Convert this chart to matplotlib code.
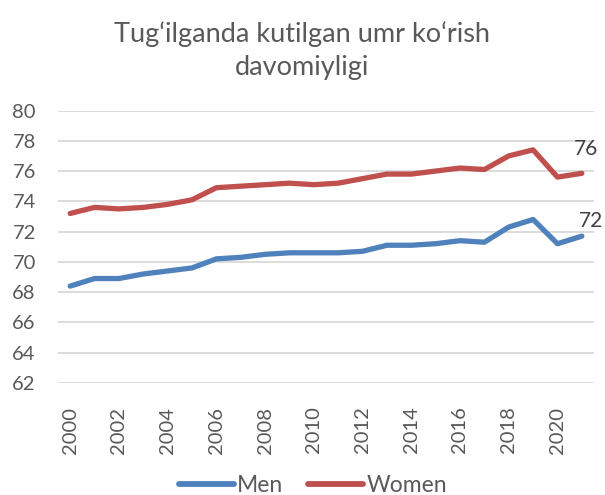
import matplotlib
matplotlib.use("Agg")
import matplotlib.pyplot as plt

plt.rcParams['font.family'] = ['Lato', 'DejaVu Sans']

years = list(range(2000, 2022))
men = [68.4, 68.9, 68.9, 69.2, 69.4, 69.6, 70.2, 70.3, 70.5, 70.6, 70.6,
       70.6, 70.7, 71.1, 71.1, 71.2, 71.4, 71.3, 72.3, 72.8, 71.2, 71.7]
women = [73.2, 73.6, 73.5, 73.6, 73.8, 74.1, 74.9, 75.0, 75.1, 75.2, 75.1,
         75.2, 75.5, 75.8, 75.8, 76.0, 76.2, 76.1, 77.0, 77.4, 75.6, 75.85]
end_labels = ["72", "76"]
title = "Tug\u2018ilganda kutilgan umr ko\u2018rish\ndavomiyligi"
xtick_years = list(range(2000, 2022, 2))
ytick_vals = list(range(62, 81, 2))

text_col = "#595959"
blue = "#4F81BD"
red = "#C0504D"

fig = plt.figure(figsize=(6.05, 4.95), dpi=100)
ax = fig.add_axes([58/605, 1-383/495, (594-58)/605, (383-110.5)/495])

ax.plot(years, men, color=blue, lw=3.8, solid_capstyle='round', solid_joinstyle='round', label="Men")
ax.plot(years, women, color=red, lw=3.8, solid_capstyle='round', solid_joinstyle='round', label="Women")

ax.annotate(end_labels[0], (years[-1], men[-1]), xytext=(6.5, 4), textcoords='offset points',
            fontsize=15, color="#404040", ha='center', va='bottom')
ax.annotate(end_labels[1], (years[-1], women[-1]), xytext=(3, 10), textcoords='offset points',
            fontsize=15, color="#404040", ha='center', va='bottom')

ax.set_xlim(1999.5, 2021.5)
ax.set_ylim(62, 80)
ax.set_yticks(ytick_vals)
ax.set_xticks(xtick_years)
ax.set_xticklabels([str(y) for y in xtick_years], rotation=90)
ax.grid(axis='y', color="#D9D9D9", lw=1.3)
ax.set_axisbelow(True)
for s in ax.spines.values():
    s.set_visible(False)
ax.tick_params(axis='both', length=0, labelsize=14.5, colors=text_col)
ax.tick_params(axis='y', pad=16)
ax.tick_params(axis='x', pad=17)

fig.text(0.5, 1-51/495, title, ha='center', va='center', fontsize=19.5, color=text_col, linespacing=1.4)

leg = fig.legend(loc='center', bbox_to_anchor=(313/605, 1-486/495), ncol=2, frameon=False,
                 fontsize=16.5, handlelength=2.4, handletextpad=0.15, columnspacing=1.1,
                 borderpad=0, borderaxespad=0)
for t in leg.get_texts():
    t.set_color(text_col)
for l in leg.get_lines():
    l.set_linewidth(4.2)
    l.set_solid_capstyle('round')

fig.savefig("out.png", dpi=100)
